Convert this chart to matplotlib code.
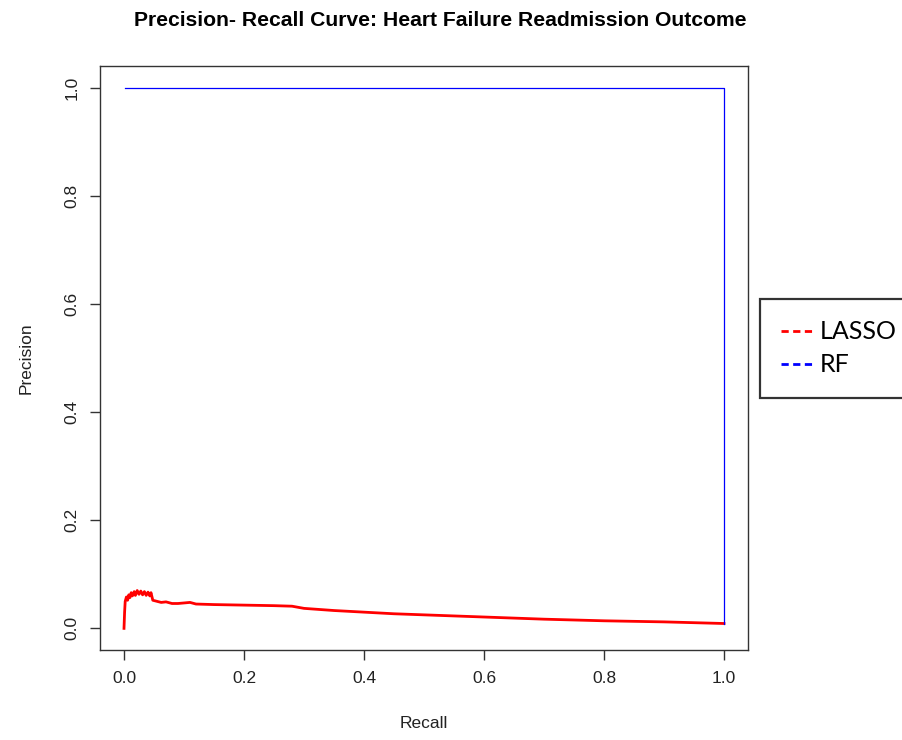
import matplotlib
matplotlib.use('agg')
from matplotlib import pyplot as plt
from matplotlib.lines import Line2D

# LASSO precision-recall curve
lasso_recall = [0.000, 0.001, 0.002, 0.004, 0.006, 0.008, 0.010, 0.012, 0.014, 0.017,
                0.019, 0.022, 0.025, 0.028, 0.031, 0.034, 0.037, 0.040, 0.043, 0.045,
                0.048, 0.055, 0.062, 0.070, 0.080, 0.090, 0.100, 0.110, 0.120, 0.150,
                0.200, 0.250, 0.280, 0.300, 0.350, 0.400, 0.450, 0.500, 0.550, 0.600,
                0.700, 0.800, 0.900, 1.000]
lasso_precision = [0.000, 0.030, 0.050, 0.058, 0.052, 0.062, 0.057, 0.066, 0.060, 0.068,
                   0.061, 0.070, 0.063, 0.069, 0.062, 0.068, 0.061, 0.067, 0.060, 0.066,
                   0.052, 0.050, 0.048, 0.049, 0.046, 0.046, 0.047, 0.048, 0.045, 0.044,
                   0.043, 0.042, 0.041, 0.037, 0.033, 0.030, 0.027, 0.025, 0.023, 0.021,
                   0.017, 0.014, 0.012, 0.009]

# RF curve
rf_recall = [0.002, 1.0, 1.0]
rf_precision = [1.0, 1.0, 0.009]

ticks = [0.0, 0.2, 0.4, 0.6, 0.8, 1.0]
tick_labels = ['0.0', '0.2', '0.4', '0.6', '0.8', '1.0']

plt.rcParams['font.family'] = ['Liberation Sans', 'DejaVu Sans']

fig = plt.figure(figsize=(9.03, 7.4), dpi=100)
ax = fig.add_axes([100 / 903, 1 - 650 / 740, 648 / 903, 584 / 740])

ax.plot(lasso_recall, lasso_precision, color='red', lw=2.0)
ax.plot(rf_recall, rf_precision, color='blue', lw=0.9)

ax.set_xlim(-0.04, 1.04)
ax.set_ylim(-0.04, 1.04)
ax.set_xticks(ticks)
ax.set_xticklabels(tick_labels)
ax.set_yticks(ticks)
ax.set_yticklabels(tick_labels, rotation=90, va='center')

for s in ax.spines.values():
    s.set_color('#333333')
    s.set_linewidth(1.0)
ax.tick_params(direction='out', length=7, width=1.0, color='#333333',
               labelsize=12.5, labelcolor='#222222', pad=8)

ax.set_xlabel('Recall', fontsize=12.5, labelpad=22, color='#222222')
ax.set_ylabel('Precision', fontsize=12.5, labelpad=22, color='#222222')

fig.text(440 / 903, 1 - 21 / 740, 'Precision- Recall Curve: Heart Failure Readmission Outcome',
         ha='center', va='center', fontsize=15.2, fontweight='bold')

handles = [Line2D([], [], color='red', lw=2, ls=(0, (2.6, 1.6))),
           Line2D([], [], color='blue', lw=2, ls=(0, (2.6, 1.6)))]
leg = fig.legend(handles, ['LASSO', 'RF'], loc='upper left',
                 bbox_to_anchor=(760 / 903, 1 - 299 / 740),
                 prop={'family': 'Lato', 'size': 18},
                 frameon=True, fancybox=False, edgecolor='black',
                 handlelength=1.25, handletextpad=0.3, borderpad=0.85,
                 labelspacing=0.4, borderaxespad=0)
leg.get_frame().set_linewidth(1.6)

fig.savefig('out.png', dpi=100, facecolor='white')
